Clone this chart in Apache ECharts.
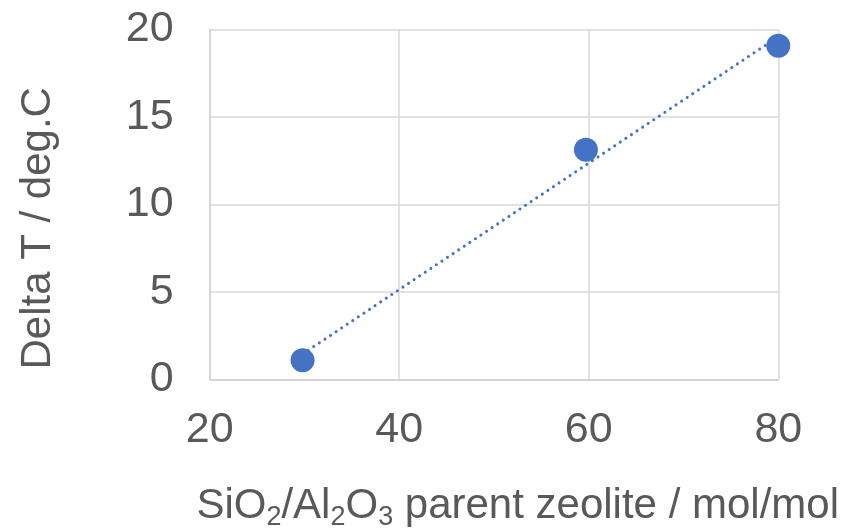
<!DOCTYPE html>
<html>
<head>
<meta charset="utf-8">
<script src="https://cdn.jsdelivr.net/npm/echarts@6/dist/echarts.min.js"></script>
<style>html,body{margin:0;padding:0;background:#fff;}#c{width:851px;height:529px;}</style>
</head>
<body>
<div id="c"></div>
<script>
const ratioValues = [29.8, 59.7, 80];
const deltaTValues = [1.09, 13.13, 19.07];
const xTicks = [20, 40, 60, 80];
const yTicks = [0, 5, 10, 15, 20];

// least-squares trendline from the data
const n = ratioValues.length;
const mx = ratioValues.reduce((a, b) => a + b, 0) / n;
const my = deltaTValues.reduce((a, b) => a + b, 0) / n;
let sxy = 0, sxx = 0;
for (let i = 0; i < n; i++) { sxy += (ratioValues[i] - mx) * (deltaTValues[i] - my); sxx += (ratioValues[i] - mx) ** 2; }
const slope = sxy / sxx, icpt = my - slope * mx;
const xMin = Math.min(...ratioValues), xMax = Math.max(...ratioValues);
const trend = [[xMin, icpt + slope * xMin], [xMax, icpt + slope * xMax]];

const FONT = '"Liberation Sans", Arial, sans-serif';
const TXT = '#595959';
const chart = echarts.init(document.getElementById('c'));
chart.setOption({
  animation: false,
  grid: { left: 209.7, right: 72.7, top: 29.5, bottom: 149.7 },
  xAxis: {
    type: 'value', min: xTicks[0], max: xTicks[xTicks.length - 1], interval: 20,
    axisLine: { show: true, lineStyle: { color: '#D0D0D0', width: 1.5 } },
    axisTick: { show: false },
    splitLine: { show: true, lineStyle: { color: '#D9D9D9', width: 1.5 } },
    axisLabel: { color: TXT, fontSize: 43, fontFamily: FONT, margin: 29 }
  },
  yAxis: {
    type: 'value', min: yTicks[0], max: yTicks[yTicks.length - 1], interval: 5,
    axisLine: { show: true, lineStyle: { color: '#D0D0D0', width: 1.5 } },
    axisTick: { show: false },
    splitLine: { show: true, lineStyle: { color: '#D9D9D9', width: 1.5 } },
    axisLabel: { color: TXT, fontSize: 43, fontFamily: FONT, margin: 36 }
  },
  series: [
    {
      type: 'line', data: trend, showSymbol: false, symbol: 'none', z: 2,
      lineStyle: { color: '#4472C4', width: 3, type: [0.1, 6.6], cap: 'round' }
    },
    {
      type: 'scatter', data: ratioValues.map((x, i) => [x, deltaTValues[i]]),
      symbolSize: 24, z: 3,
      itemStyle: { color: '#4472C4', opacity: 1 }
    }
  ],
  graphic: [
    {
      type: 'text', x: 38.3, y: 228.3, rotation: Math.PI / 2,
      style: { text: 'Delta T / deg.C', fill: TXT, fontSize: 42, fontFamily: FONT, align: 'center', verticalAlign: 'middle' }
    },
    {
      type: 'text', x: 517.7, y: 506,
      style: {
        text: '{a|SiO}{s|2}{a|/Al}{s|2}{a|O}{s|3}{a| parent zeolite / mol/mol}',
        align: 'center', verticalAlign: 'middle',
        rich: {
          a: { fill: TXT, fontSize: 42, fontFamily: FONT, lineHeight: 50 },
          s: { fill: TXT, fontSize: 27, fontFamily: FONT, lineHeight: 20, verticalAlign: 'bottom' }
        }
      }
    }
  ]
});
</script>
</body>
</html>
